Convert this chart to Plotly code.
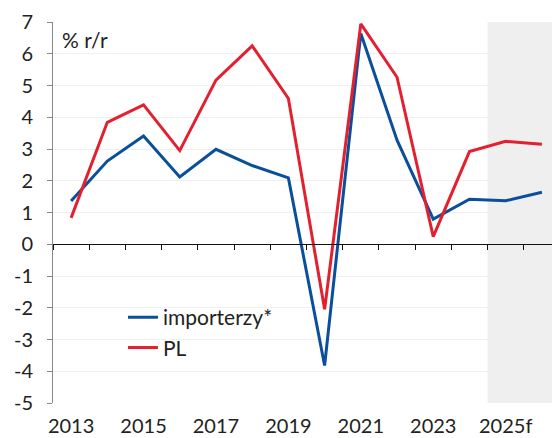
import plotly.graph_objects as go

years = list(range(2013, 2027))
importerzy = [1.36, 2.62, 3.41, 2.12, 2.99, 2.48, 2.09, -3.82, 6.64, 3.28, 0.79, 1.42, 1.37, 1.64]
pl = [0.83, 3.84, 4.39, 2.95, 5.17, 6.25, 4.59, -2.05, 6.94, 5.26, 0.24, 2.92, 3.24, 3.15]
tick_years = [2013, 2015, 2017, 2019, 2021, 2023, 2025]
tick_text = ["2013", "2015", "2017", "2019", "2021", "2023", "2025f"]
y_ticks = list(range(-5, 8))
y_text = [str(v) for v in y_ticks]  # plain hyphen minus like the original

blue = "#0a4f9c"
red = "#e3202f"
font = "Lato"

fig = go.Figure()
fig.add_trace(go.Scatter(x=years, y=importerzy, mode="lines", name="importerzy*",
                         line=dict(color=blue, width=3)))
fig.add_trace(go.Scatter(x=years, y=pl, mode="lines", name="PL",
                         line=dict(color=red, width=3)))
# dummy trace on xaxis2 so the zero axis is drawn
fig.add_trace(go.Scatter(x=[years[0]], y=[0], xaxis="x2", mode="none",
                         showlegend=False, hoverinfo="skip"))

# forecast shading
fig.add_vrect(x0=2024.5, x1=2026.5, fillcolor="#efefef", line_width=0, layer="below")

# page body has an 8px margin, so the figure is sized/offset to compensate
fig.update_layout(
    width=552, height=430,
    margin=dict(l=45, r=0, t=14, b=35),
    plot_bgcolor="white", paper_bgcolor="white",
    font=dict(family=font, size=20, color="#222"),
    showlegend=True,
    legend=dict(x=0.138, y=0.278, xanchor="left", yanchor="top",
                bgcolor="rgba(0,0,0,0)", font=dict(size=21, color="#222"),
                tracegroupgap=0, itemwidth=30),
    xaxis=dict(range=[2012.5, 2026.5], tickvals=tick_years, ticktext=tick_text,
               showgrid=False, zeroline=False, showline=False, ticks="",
               tickfont=dict(size=20), ticklabelstandoff=9, automargin=False),
    xaxis2=dict(range=[2012.5, 2026.5], overlaying="x", anchor="free",
                position=5 / 12, showline=True, linecolor="#111", linewidth=1,
                ticks="outside", tick0=2012.5, dtick=1, ticklen=5,
                tickcolor="#111", showticklabels=False, showgrid=False,
                zeroline=False, side="bottom", automargin=False),
    yaxis=dict(range=[-5, 7], tickvals=y_ticks, ticktext=y_text,
               showgrid=True, gridcolor="#f0f0f0",
               zeroline=False, showline=True, linecolor="#888", linewidth=1,
               ticks="outside", ticklen=5, tickcolor="#888",
               tickfont=dict(size=20), ticklabelstandoff=10, automargin=False),
    annotations=[dict(text="% r/r", xref="paper", yref="paper", x=0.014, y=0.953,
                      xanchor="left", yanchor="middle", showarrow=False,
                      font=dict(size=21, color="#222"))],
)

fig.write_html("out.html")
